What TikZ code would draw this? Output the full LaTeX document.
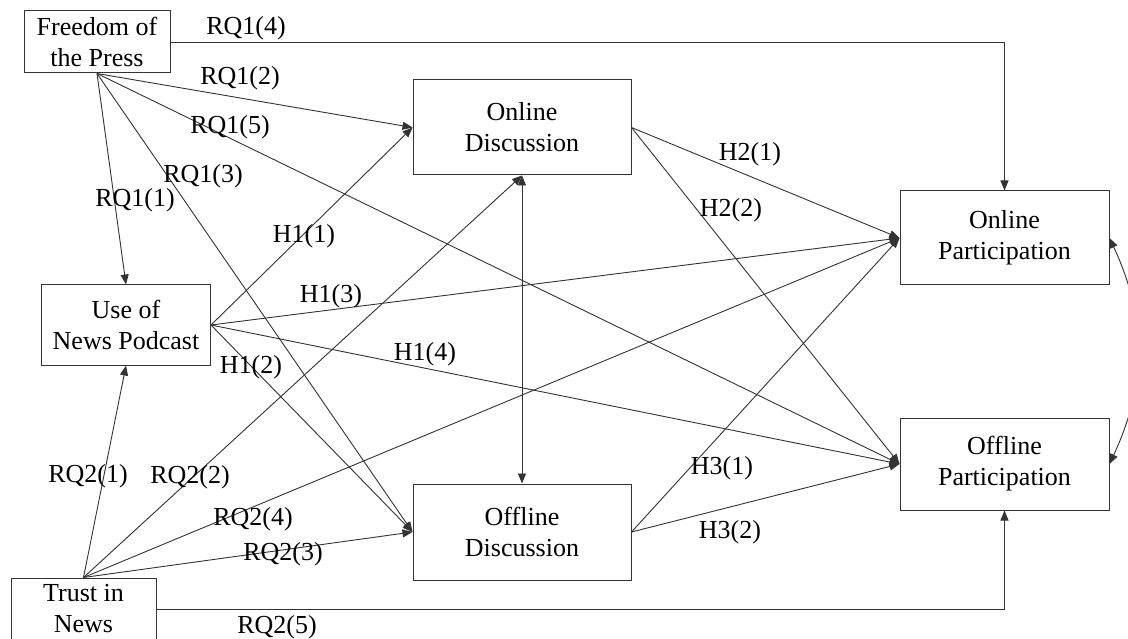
\documentclass[tikz,border=0pt]{standalone}
\usepackage{fontspec}
\setmainfont{Liberation Serif}
\usetikzlibrary{arrows.meta}
\begin{document}
\begin{tikzpicture}[x=1pt,y=-1pt,
  box/.style={draw=black!80, line width=1pt, align=center, inner sep=0pt,
    font=\fontsize{26}{31}\selectfont},
  lbl/.style={font=\fontsize{26}{30}\selectfont, inner sep=0pt},
  path/.style={draw=black!80, line width=0.9pt, -{Triangle[length=10pt,width=8pt]}},
  both/.style={draw=black!80, line width=0.9pt, {Triangle[length=10pt,width=8pt]}-{Triangle[length=10pt,width=8pt]}}]
\useasboundingbox (0,0) rectangle (1128,639);
\clip (0,0) rectangle (1128,639);
\fill[white] (0,0) rectangle (1128,639);

% constructs
\node[box, minimum width=146pt, minimum height=62pt] (fp) at (97,42) {Freedom of\\the Press};
\node[box, minimum width=169pt, minimum height=80pt] (pod) at (126,325) {Use of\\News Podcast};
\node[box, minimum width=145pt, minimum height=62pt] (tn) at (83.5,609) {Trust in\\News};
\node[box, minimum width=218pt, minimum height=95pt] (ond) at (522,127.5) {Online\\Discussion};
\node[box, minimum width=218pt, minimum height=96pt] (ofd) at (522,532) {Offline\\Discussion};
\node[box, minimum width=209pt, minimum height=94pt] (onp) at (1004.5,238) {Online\\Participation};
\node[box, minimum width=209pt, minimum height=92pt] (ofp) at (1004.5,464) {Offline\\Participation};

% paths from freedom of the press
\draw[path] (fp.east) -| (onp.north);
\draw[path] (fp.south) -- (pod.north);
\draw[path] (fp.south) -- (ond.west);
\draw[path] (fp.south) -- (ofd.west);
\draw[path] (fp.south) -- (ofp.west);

% paths from news podcast use
\draw[path] (pod.east) -- (ond.west);
\draw[path] (pod.east) -- (ofd.west);
\draw[path] (pod.east) -- (onp.west);
\draw[path] (pod.east) -- (ofp.west);

% paths from trust in news
\draw[path] (tn.north) -- (pod.south);
\draw[path] (tn.north) -- (ond.south);
\draw[path] (tn.north) -- (onp.west);
\draw[path] (tn.north) -- (ofd.west);
\draw[path] (tn.east) -| (ofp.south);

% discussion to participation
\draw[path] (ond.east) -- (onp.west);
\draw[path] (ond.east) -- (ofp.west);
\draw[path] (ofd.east) -- (onp.west);
\draw[path] (ofd.east) -- (ofp.west);

% covariances
\draw[both] (ond.south) -- (ofd.north);
\draw[both] (onp.east) to[out=-65, in=65] (ofp.east);

% path labels
\node[lbl] (l14) at (246,28) {RQ1(4)};
\node[lbl] (l12) at (240,78) {RQ1(2)};
\node[lbl] (l15) at (230,127) {RQ1(5)};
\node[lbl] (l13) at (203,176) {RQ1(3)};
\node[lbl] (l11) at (135,200) {RQ1(1)};
\node[lbl] (h11) at (304,236) {H1(1)};
\node[lbl] (h13) at (331,296) {H1(3)};
\node[lbl] (h12) at (251,367) {H1(2)};
\node[lbl] (h14) at (425,354) {H1(4)};
\node[lbl] (h21) at (750,154) {H2(1)};
\node[lbl] (h22) at (731,210) {H2(2)};
\node[lbl] (h31) at (722,468) {H3(1)};
\node[lbl] (h32) at (730,532) {H3(2)};
\node[lbl] (l21) at (88,476) {RQ2(1)};
\node[lbl] (l22) at (190,477) {RQ2(2)};
\node[lbl] (l24) at (253,519) {RQ2(4)};
\node[lbl] (l23) at (283,554) {RQ2(3)};
\node[lbl] (l25) at (277,627) {RQ2(5)};
\end{tikzpicture}
\end{document}
